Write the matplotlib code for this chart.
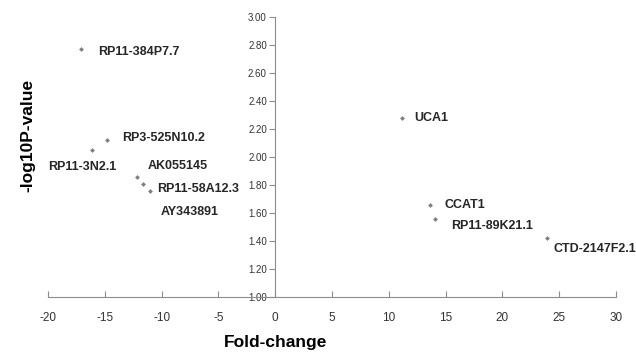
import matplotlib
matplotlib.use('Agg')
import matplotlib.pyplot as plt

# fold-change / -log10 p-value of the labelled lncRNAs
genes = ['RP11-384P7.7', 'RP3-525N10.2', 'RP11-3N2.1', 'AK055145', 'RP11-58A12.3',
         'AY343891', 'UCA1', 'CCAT1', 'RP11-89K21.1', 'CTD-2147F2.1']
fold_change = [-17.1, -14.8, -16.1, -12.2, -11.6, -11.0, 11.2, 13.6, 14.1, 23.9]
log_p = [2.77, 2.12, 2.05, 1.86, 1.81, 1.76, 2.28, 1.66, 1.56, 1.42]

# label offsets in pixels (dx, dy)
offsets = [(17, -3), (15, 2), (-44, -17), (11, 11), (14, -5),
           (10, -21), (12, 0), (15, 0), (16, -7), (7, -11)]

plt.rcParams['font.family'] = ['Liberation Sans', 'DejaVu Sans']
plt.rcParams['axes.unicode_minus'] = False

fig = plt.figure(figsize=(6.36, 3.57), dpi=100)
ax = fig.add_axes([0.0755, 0.168, 0.8931, 0.784])

ax.scatter(fold_change, log_p, marker='D', s=6, color='#7f7f7f', linewidths=0, zorder=3)
for g, x, y, (dx, dy) in zip(genes, fold_change, log_p, offsets):
    ax.annotate(g, (x, y), xytext=(dx, dy), textcoords='offset pixels',
                ha='left', va='center', fontsize=9, fontweight='bold', color='#262626')

ax.set_xlim(-20, 30)
ax.set_ylim(1.0, 3.0)
ax.set_xticks(range(-20, 31, 5))
ax.set_yticks([1.0 + 0.2 * i for i in range(11)])
ax.set_yticklabels(['%.2f' % (1.0 + 0.2 * i) for i in range(11)])

for s in ['top', 'right']:
    ax.spines[s].set_visible(False)
ax.spines['left'].set_position(('data', 0))
ax.spines['left'].set_color('#8c8c8c')
ax.spines['bottom'].set_color('#8c8c8c')
ax.tick_params(axis='y', direction='out', length=4, color='#8c8c8c', labelsize=7,
               labelcolor='#333333', pad=2)
ax.tick_params(axis='x', direction='in', length=4, color='#8c8c8c', labelsize=8.5,
               labelcolor='#333333', pad=11)

fig.text(0.433, 0.042, 'Fold-change', ha='center', va='center', fontsize=12.5, fontweight='bold')
fig.text(0.044, 0.62, '-log10P-value', ha='center', va='center', rotation=90,
         fontsize=12.5, fontweight='bold')

plt.savefig('out.png', dpi=100)
plt.close()
